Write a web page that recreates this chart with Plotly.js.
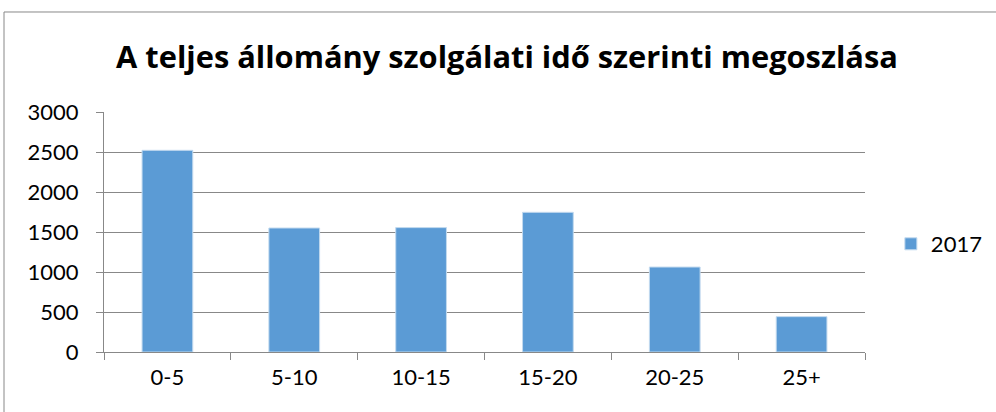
<!DOCTYPE html>
<html>
<head>
<meta charset="utf-8">
<script src="https://cdn.plot.ly/plotly-3.0.1.min.js"></script>
<style>html,body{margin:0;padding:0;background:#fff;}#chart{width:996px;height:412px;}</style>
</head>
<body>
<div id="chart"></div>
<script>
const categories = ["0-5", "5-10", "10-15", "15-20", "20-25", "25+"];
const values2017 = [2521, 1550, 1555, 1746, 1062, 442];
const seriesName = "2017";
const titleText = "A teljes állomány szolgálati idő szerinti megoszlása";
const yTicks = [0, 500, 1000, 1500, 2000, 2500, 3000];

const FONT = 'Lato, "Open Sans", "Liberation Sans", sans-serif';
const TITLE_FONT = '"Open Sans", Lato, "Liberation Sans", sans-serif';

const data = [{
  type: "bar",
  x: categories,
  y: values2017,
  name: seriesName,
  marker: {color: "#5b9bd5", line: {color: "#c3daef", width: 1}},
  showlegend: true
}];

const layout = {
  width: 996, height: 412,
  margin: {l: 104, r: 131, t: 112, b: 60, autoexpand: false},
  paper_bgcolor: "#fff", plot_bgcolor: "#fff",
  font: {family: FONT, color: "#000", size: 22},
  title: {text: "<b>" + titleText + "</b>", x: 0.509, xanchor: "center", y: 0.862, yanchor: "middle",
          font: {family: TITLE_FONT, size: 30.8, color: "#000"}},
  bargap: 0.6,
  xaxis: {type: "category", showgrid: false, showline: true, linecolor: "#888", linewidth: 1,
          ticks: "outside", tickson: "boundaries", ticklen: 7, tickcolor: "#888",
          tickfont: {family: FONT, size: 22}, zeroline: false, ticklabelstandoff: 6},
  yaxis: {range: [0, 3000], tickvals: yTicks, showgrid: true, gridcolor: "#888", gridwidth: 1,
          showline: true, linecolor: "#888", ticks: "outside", ticklen: 7, tickcolor: "#888",
          tickfont: {family: FONT, size: 22}, zeroline: false, ticklabelstandoff: 13},
  legend: {x: 1.034, y: 0.45, xanchor: "left", yanchor: "middle", font: {family: FONT, size: 22},
           itemwidth: 30, bgcolor: "rgba(0,0,0,0)"},
  shapes: [{type: "rect", xref: "paper", yref: "paper", x0: -0.1314, x1: 1.3, y0: -0.4, y1: 1.4167,
            line: {color: "#888", width: 1}, fillcolor: "rgba(0,0,0,0)", layer: "below"}]
};

Plotly.newPlot("chart", data, layout, {displayModeBar: false, staticPlot: true});
</script>
</body>
</html>
